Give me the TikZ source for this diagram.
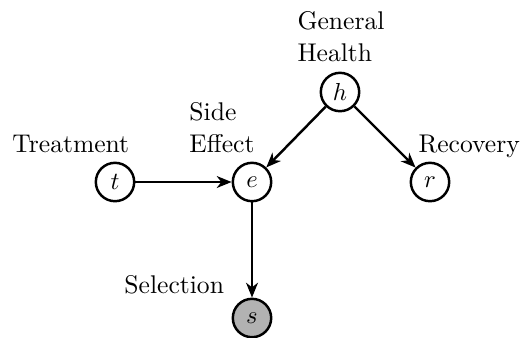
\documentclass[tikz,border=0pt]{standalone}
\usetikzlibrary{arrows.meta}
\begin{document}
\begin{tikzpicture}[x=0.4065pt,y=-0.4065pt,font=\fontsize{10.4}{13}\selectfont,
  var/.style={circle,draw,line width=1pt,minimum size=15.6pt,inner sep=0pt},
  obs/.style={var,fill=gray!60},
  lab/.style={inner sep=0pt,align=left},
  edge/.style={line width=1pt,-{Stealth[length=6pt,width=4.8pt,inset=1.8pt]}}]
\useasboundingbox (0,0) rectangle (525,337);
\node[var] (h) at (340,92) {$h$};
\node[var] (e) at (252,182) {$e$};
\node[var] (t) at (115,182) {$t$};
\node[var] (r) at (430,182) {$r$};
\node[obs] (s) at (252,318) {$s$};
\node[lab,anchor=north west] (hl) at (297,11) {General\\Health};
\node[lab,anchor=north west] (el) at (189,102) {Side\\Effect};
\node[lab,anchor=base west] (tl) at (12,152) {Treatment};
\node[lab,anchor=base west] (rl) at (418,152) {Recovery};
\node[lab,anchor=base west] (sl) at (124,293) {Selection};
\draw[edge] (t) -- (e);
\draw[edge] (h) -- (e);
\draw[edge] (h) -- (r);
\draw[edge] (e) -- (s);
\end{tikzpicture}
\end{document}
